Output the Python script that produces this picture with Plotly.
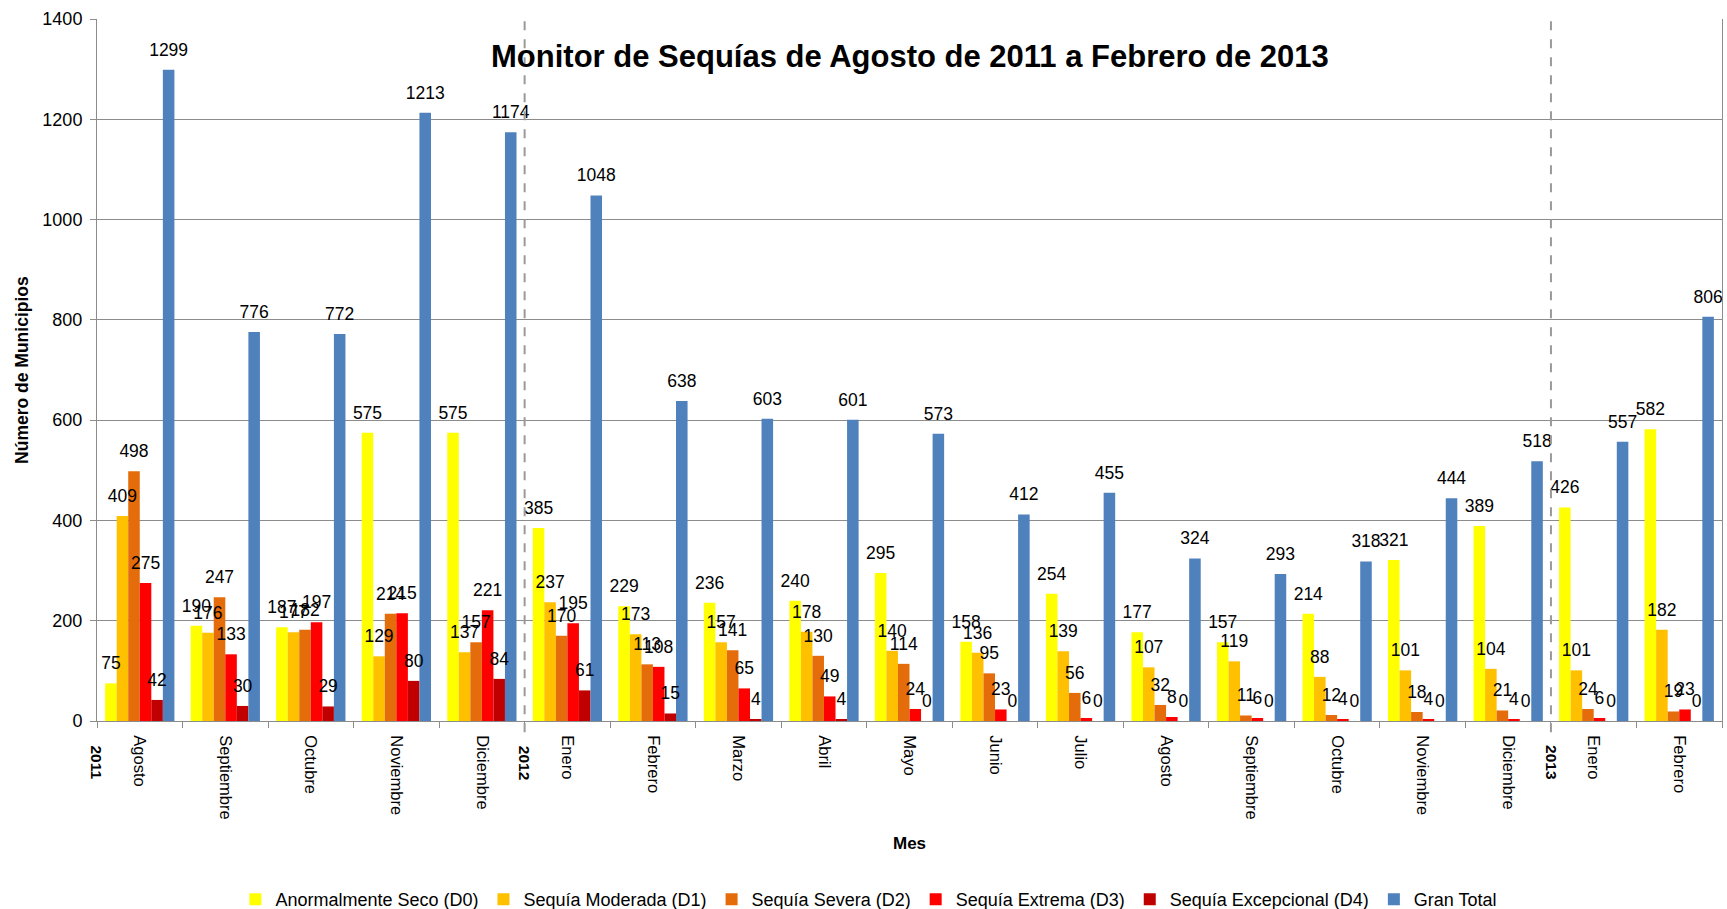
import plotly.graph_objects as go

years = ["2011"] * 5 + ["2012"] * 12 + ["2013"] * 2
months = ["Agosto", "Septiembre", "Octubre", "Noviembre", "Diciembre",
          "Enero", "Febrero", "Marzo", "Abril", "Mayo", "Junio", "Julio",
          "Agosto", "Septiembre", "Octubre", "Noviembre", "Diciembre",
          "Enero", "Febrero"]

d0 = [75, 190, 187, 575, 575, 385, 229, 236, 240, 295, 158, 254, 177, 157, 214, 321, 389, 426, 582]
d1 = [409, 176, 177, 129, 137, 237, 173, 157, 178, 140, 136, 139, 107, 119, 88, 101, 104, 101, 182]
d2 = [498, 247, 182, 214, 157, 170, 113, 141, 130, 114, 95, 56, 32, 11, 12, 18, 21, 24, 19]
d3 = [275, 133, 197, 215, 221, 195, 108, 65, 49, 24, 23, 6, 8, 6, 4, 4, 4, 6, 23]
d4 = [42, 30, 29, 80, 84, 61, 15, 4, 4, 0, 0, 0, 0, 0, 0, 0, 0, 0, 0]
total = [1299, 776, 772, 1213, 1174, 1048, 638, 603, 601, 573, 412, 455, 324, 293, 318, 444, 518, 557, 806]

series_names = ["Anormalmente Seco (D0)", "Sequía Moderada (D1)", "Sequía Severa (D2)",
                "Sequía Extrema (D3)", "Sequía Excepcional (D4)", "Gran Total"]
series_values = [d0, d1, d2, d3, d4, total]
colors = ["#FFFF00", "#FFC000", "#E46C0A", "#FF0000", "#C00000", "#4F81BD"]

FONT = "Liberation Sans, Arial, sans-serif"
GRID = "#8C8C8C"
BARGAP = 0.19

x = list(range(len(months)))
fig = go.Figure()
for i, (name, vals, col) in enumerate(zip(series_names, series_values, colors)):
    fig.add_trace(go.Bar(
        x=x, y=vals, name=name, offsetgroup=str(i),
        marker=dict(color=col, line=dict(width=0)),
    ))
# data labels: grouped scatter text aligned with the bars
for i, (name, vals) in enumerate(zip(series_names, series_values)):
    fig.add_trace(go.Scatter(
        x=x, y=vals, mode="markers+text", text=[str(v) for v in vals],
        textposition="top center", orientation="v", offsetgroup=str(i),
        marker=dict(size=14, color="rgba(0,0,0,0)"),
        textfont=dict(family=FONT, size=17.5, color="black"),
        showlegend=False, hoverinfo="skip", cliponaxis=False,
    ))

# year boundaries
boundaries = [-0.5] + [i - 0.5 for i in range(1, len(years)) if years[i] != years[i - 1]]
year_labels = [years[0]] + [years[i] for i in range(1, len(years)) if years[i] != years[i - 1]]
all_bounds = [i - 0.5 for i in range(len(months) + 1)]

shapes = []
for b in boundaries[1:]:
    shapes.append(dict(type="line", xref="x", yref="paper", x0=b, x1=b, y0=-0.016, y1=1.0,
                       line=dict(color="#9A9A9A", width=2, dash="dash")))

annotations = []
for b, yl in zip(boundaries, year_labels):
    annotations.append(dict(x=b, y=-0.032, xref="x", yref="paper", text="<b>" + yl + "</b>",
                            textangle=90, showarrow=False, xanchor="center", yanchor="top",
                            font=dict(family=FONT, size=15.5, color="black")))

annotations.append(dict(x=0.5, y=0.947, xref="paper", yref="paper",
                        text="<b>Monitor de Sequías de Agosto de 2011 a Febrero de 2013</b>",
                        showarrow=False, xanchor="center", yanchor="middle",
                        font=dict(family=FONT, size=31, color="black")))
annotations.append(dict(x=-0.0462, y=0.5, xref="paper", yref="paper",
                        text="<b>Número de Municipios</b>", textangle=-90,
                        showarrow=False, xanchor="center", yanchor="middle",
                        font=dict(family=FONT, size=17.5, color="black")))
annotations.append(dict(x=0.5, y=-0.174, xref="paper", yref="paper",
                        text="<b>Mes</b>", showarrow=False, xanchor="center", yanchor="middle",
                        font=dict(family=FONT, size=17, color="black")))

fig.update_layout(
    width=1727, height=909,
    margin=dict(l=97, r=5, t=19, b=188, autoexpand=False),
    paper_bgcolor="white", plot_bgcolor="white",
    barmode="group", bargap=BARGAP, bargroupgap=0,
    scattermode="group", scattergap=BARGAP,
    font=dict(family=FONT, size=16, color="black"),
    shapes=shapes, annotations=annotations,
    legend=dict(orientation="h", x=0.475, xanchor="center", y=-0.2545, yanchor="middle",
                font=dict(family=FONT, size=18, color="black"),
                itemwidth=30, bgcolor="rgba(0,0,0,0)"),
    xaxis=dict(range=[-0.5, len(months) - 0.5], tickmode="array", tickvals=x, ticktext=months,
               tickangle=90, ticks="", ticklabelstandoff=10, showline=True, linecolor=GRID,
               linewidth=1, showgrid=False, zeroline=False,
               tickfont=dict(family=FONT, size=16.5, color="black"),
               minor=dict(tickmode="array", tickvals=all_bounds, ticks="outside", ticklen=6,
                          tickcolor=GRID, showgrid=False)),
    yaxis=dict(range=[0, 1400], dtick=200, showgrid=True, gridcolor=GRID, gridwidth=1,
               showline=True, mirror=True, linecolor=GRID, linewidth=1, ticks="outside", ticklen=6,
               tickcolor=GRID, zeroline=False, ticklabelstandoff=4,
               tickfont=dict(family=FONT, size=18, color="black")),
)

fig.write_html("out.html", config={"displayModeBar": False},
               post_script="document.body.style.margin='0px';document.body.style.overflow='hidden';")
